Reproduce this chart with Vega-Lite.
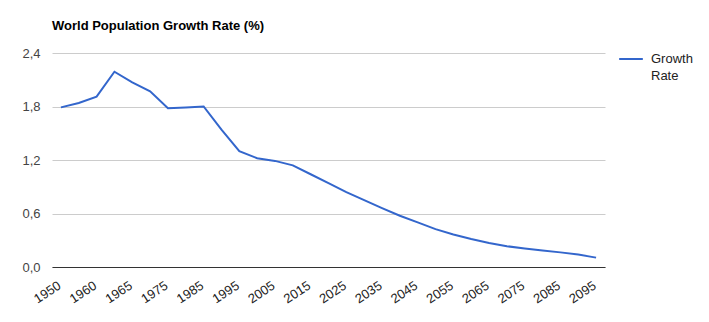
{
  "$schema": "https://vega.github.io/schema/vega-lite/v6.json",
  "width": 553,
  "height": 214,
  "autosize": {"type": "none"},
  "padding": {"left": 52, "top": 53, "right": 104, "bottom": 55},
  "background": "white",
  "title": {
    "text": "World Population Growth Rate (%)",
    "anchor": "start",
    "frame": "group",
    "font": "Liberation Sans",
    "fontSize": 13,
    "fontWeight": "bold",
    "color": "#000000",
    "offset": 13
  },
  "config": {
    "view": {"stroke": null},
    "font": "Liberation Sans",
    "style": {"guide-label": {"lineHeight": 17}}
  },
  "data": {
    "values": [
      {"year": "1950", "rate": 1.79, "series": "Growth Rate"},
      {"year": "1955", "rate": 1.84, "series": "Growth Rate"},
      {"year": "1960", "rate": 1.91, "series": "Growth Rate"},
      {"year": "1963", "rate": 2.19, "series": "Growth Rate"},
      {"year": "1965", "rate": 2.07, "series": "Growth Rate"},
      {"year": "1970", "rate": 1.97, "series": "Growth Rate"},
      {"year": "1975", "rate": 1.78, "series": "Growth Rate"},
      {"year": "1980", "rate": 1.79, "series": "Growth Rate"},
      {"year": "1985", "rate": 1.80, "series": "Growth Rate"},
      {"year": "1990", "rate": 1.54, "series": "Growth Rate"},
      {"year": "1995", "rate": 1.30, "series": "Growth Rate"},
      {"year": "2000", "rate": 1.22, "series": "Growth Rate"},
      {"year": "2005", "rate": 1.19, "series": "Growth Rate"},
      {"year": "2010", "rate": 1.14, "series": "Growth Rate"},
      {"year": "2015", "rate": 1.04, "series": "Growth Rate"},
      {"year": "2020", "rate": 0.94, "series": "Growth Rate"},
      {"year": "2025", "rate": 0.84, "series": "Growth Rate"},
      {"year": "2030", "rate": 0.75, "series": "Growth Rate"},
      {"year": "2035", "rate": 0.66, "series": "Growth Rate"},
      {"year": "2040", "rate": 0.575, "series": "Growth Rate"},
      {"year": "2045", "rate": 0.50, "series": "Growth Rate"},
      {"year": "2050", "rate": 0.425, "series": "Growth Rate"},
      {"year": "2055", "rate": 0.365, "series": "Growth Rate"},
      {"year": "2060", "rate": 0.315, "series": "Growth Rate"},
      {"year": "2065", "rate": 0.27, "series": "Growth Rate"},
      {"year": "2070", "rate": 0.233, "series": "Growth Rate"},
      {"year": "2075", "rate": 0.207, "series": "Growth Rate"},
      {"year": "2080", "rate": 0.184, "series": "Growth Rate"},
      {"year": "2085", "rate": 0.164, "series": "Growth Rate"},
      {"year": "2090", "rate": 0.139, "series": "Growth Rate"},
      {"year": "2095", "rate": 0.105, "series": "Growth Rate"}
    ]
  },
  "mark": {"type": "line", "strokeWidth": 2},
  "encoding": {
    "x": {
      "field": "year",
      "type": "ordinal",
      "sort": null,
      "scale": {"type": "point", "padding": 0.5},
      "axis": {
        "title": null,
        "values": ["1950", "1960", "1965", "1975", "1985", "1995", "2005", "2015", "2025", "2035", "2045", "2055", "2065", "2075", "2085", "2095"],
        "labelAngle": -33,
        "labelAlign": "right",
        "labelBaseline": "top",
        "labelFontSize": 13,
        "labelColor": "#222222",
        "labelPadding": 12,
        "labelOffset": -5,
        "ticks": false,
        "domain": true,
        "domainColor": "#333333",
        "domainWidth": 1,
        "grid": false,
        "labelOverlap": false
      }
    },
    "y": {
      "field": "rate",
      "type": "quantitative",
      "scale": {"domain": [0, 2.4], "nice": false},
      "axis": {
        "title": null,
        "values": [0, 0.6, 1.2, 1.8, 2.4],
        "labelExpr": "replace(format(datum.value, '.1f'), '.', ',')",
        "labelFontSize": 13,
        "labelColor": "#444444",
        "labelPadding": 12,
        "ticks": false,
        "domain": false,
        "grid": true,
        "gridColor": "#cccccc",
        "gridWidth": 1
      }
    },
    "color": {
      "field": "series",
      "type": "nominal",
      "scale": {"domain": ["Growth Rate"], "range": ["#3366cc"]},
      "legend": {
        "title": null,
        "orient": "none",
        "legendX": 566,
        "legendY": -7,
        "padding": 0,
        "symbolType": "stroke",
        "symbolSize": 560,
        "symbolStrokeWidth": 2,
        "labelFontSize": 13,
        "labelColor": "#222222",
        "labelOffset": 7,
        "labelExpr": "split(datum.label, ' ')",
        "labelBaseline": "middle"
      }
    }
  }
}
